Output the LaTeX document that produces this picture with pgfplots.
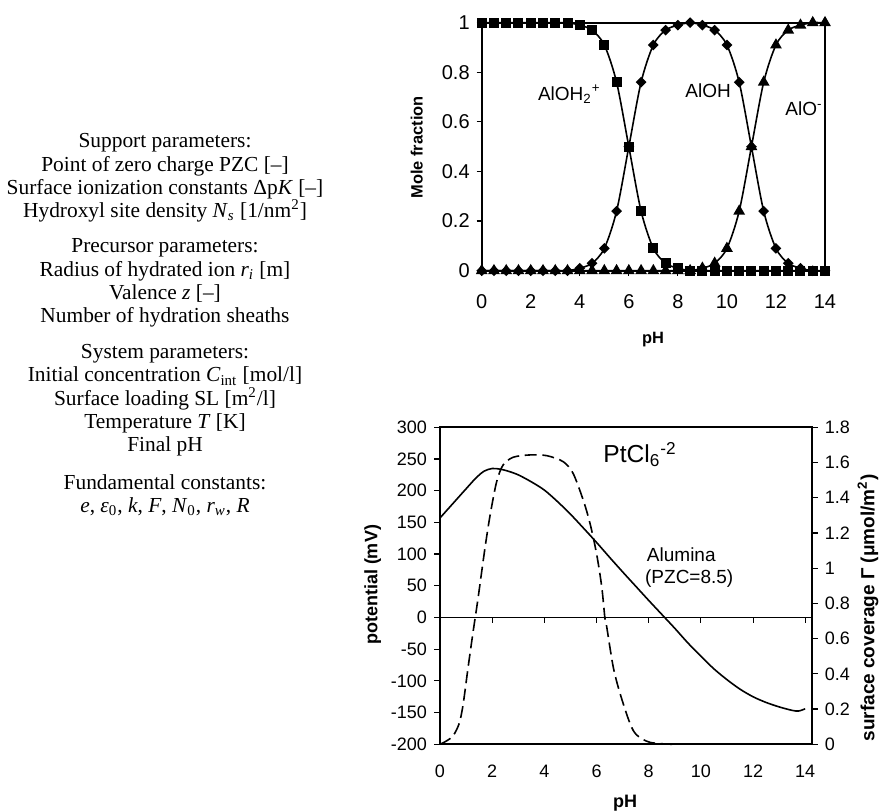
\documentclass[border=0pt]{standalone}
\usepackage{fontspec}
\setmainfont{Liberation Serif}
\newfontfamily\arial{Liberation Sans}
\usepackage{pgfplots}
\pgfplotsset{compat=1.18}

\begin{document}
\begin{tikzpicture}
\path[use as bounding box] (0,0) rectangle (439.5pt,406pt);

% left text block
\begin{scope}[every node/.style={align=center, font=\fontsize{10.7}{11.65}\selectfont, inner sep=0pt}]
\node at (82.5pt,317pt) {Support parameters:\\ Point of zero charge PZC [--]\\ Surface ionization constants Δp\textit{K} [--]\\ Hydroxyl site density \textit{N}\textsubscript{\textit{s}} [1/nm\textsuperscript{2}]};
\node at (82.5pt,264.5pt) {Precursor parameters:\\ Radius of hydrated ion \textit{r}\textsubscript{\textit{i}} [m]\\ Valence \textit{z} [--]\\ Number of hydration sheaths};
\node at (82.5pt,205.8pt) {System parameters:\\ Initial concentration \textit{C}\textsubscript{int} [mol/l]\\ Surface loading SL [m\textsuperscript{2}/l]\\ Temperature \textit{T} [K]\\ Final pH};
\node at (82.5pt,158.5pt) {Fundamental constants:\\ \textit{e}, \textit{ε}\textsubscript{0}, \textit{k}, \textit{F}, \textit{N}\textsubscript{0}, \textit{r}\textsubscript{\textit{w}}, \textit{R}};
\end{scope}

% top chart: mole fractions
\begin{axis}[
  at={(240.85pt,270.65pt)}, anchor=south west, scale only axis,
  width=171.65pt, height=124pt,
  xmin=0, xmax=14, ymin=0, ymax=1,
  xtick={0,2,...,14}, ytick={0,0.2,0.4,0.6,0.8,1},
  tick pos=left, tick align=outside, major tick length=2.5pt,
  axis line style={line width=0.9pt},
  every tick/.style={black, line width=0.6pt},
  tick label style={font=\arial\fontsize{10}{12}\selectfont},
  xticklabel style={yshift=-6pt},
  /pgf/number format/assume math mode=true,
  clip=false,
]
\addplot[black, line width=0.8pt, smooth, mark=square*, mark size=1.5pt, mark options={rotate=45}] coordinates {
 (0,0)(0.5,0)(1,0)(1.5,0)(2,0)(2.5,0)(3,0)(3.5,0)(4,0.01)(4.5,0.03)(5,0.09)(5.5,0.24)(6,0.5)
 (6.5,0.76)(7,0.91)(7.5,0.97)(8,0.99)(8.5,1.0)(9,0.99)(9.5,0.97)(10,0.91)(10.5,0.76)(11,0.5)
 (11.5,0.24)(12,0.09)(12.5,0.03)(13,0.01)(13.5,0)(14,0)};
\addplot[black, line width=0.8pt, smooth, mark=square*, mark size=2.1pt] coordinates {
 (0,1)(0.5,1)(1,1)(1.5,1)(2,1)(2.5,1)(3,1)(3.5,1)(4,0.99)(4.5,0.97)(5,0.91)(5.5,0.76)(6,0.5)
 (6.5,0.24)(7,0.09)(7.5,0.03)(8,0.01)(8.5,0)(9,0)(9.5,0)(10,0)(10.5,0)(11,0)(11.5,0)(12,0)
 (12.5,0)(13,0)(13.5,0)(14,0)};
\addplot[black, line width=0.8pt, smooth, mark=triangle*, mark size=2.6pt] coordinates {
 (0,0)(0.5,0)(1,0)(1.5,0)(2,0)(2.5,0)(3,0)(3.5,0)(4,0)(4.5,0)(5,0)(5.5,0)(6,0)(6.5,0)(7,0)
 (7.5,0)(8,0)(8.5,0)(9,0.01)(9.5,0.03)(10,0.09)(10.5,0.24)(11,0.5)(11.5,0.76)(12,0.91)
 (12.5,0.97)(13,0.99)(13.5,1)(14,1)};
\node[font=\arial\fontsize{9.5}{11}\selectfont, anchor=base west, inner sep=0pt] at (axis cs:2.28,0.688) {AlOH\textsubscript{2}\textsuperscript{+}};
\node[font=\arial\fontsize{9.5}{11}\selectfont, anchor=base west, inner sep=0pt] at (axis cs:8.29,0.699) {AlOH};
\node[font=\arial\fontsize{9.5}{11}\selectfont, anchor=base west, inner sep=0pt] at (axis cs:12.37,0.625) {AlO\textsuperscript{-}};
\end{axis}
\node[font=\arial\bfseries\fontsize{8.2}{10}\selectfont, rotate=90] at (208.35pt,332.3pt) {Mole fraction};
\node[font=\arial\bfseries\fontsize{8.2}{10}\selectfont] at (326.5pt,236pt) {pH};

% bottom chart: potential (left axis)
\begin{axis}[
  at={(220pt,33.85pt)}, anchor=south west, scale only axis,
  width=185.85pt, height=158.5pt,
  xmin=0, xmax=14.25, ymin=-200, ymax=300,
  xtick={0,2,...,14}, ytick={-200,-150,...,300},
  tick pos=left, tick align=outside,
  major tick length=3pt,
  xtick style={draw=none},
  axis line style={line width=0.9pt},
  every tick/.style={black, line width=0.6pt},
  tick label style={font=\arial\fontsize{9}{11}\selectfont},
  xticklabel style={yshift=-4pt},
  /pgf/number format/assume math mode=true,
  clip=false,
]
\draw[line width=0.5pt] (axis cs:0,0) -- (axis cs:14.25,0);
\pgfplotsinvokeforeach{2,4,6,8,10,12,14}{\draw[line width=0.5pt] (axis cs:#1,0) -- ++(0pt,-2.8pt);}
\addplot[black, line width=0.8pt, smooth, tension=0.5] coordinates {
 (0,157)(0.5,180)(1.0,203)(1.4,221)(1.7,231)(2.0,235)(2.3,234)(2.6,231)(3.0,225)(3.5,214)
 (4.0,201)(4.5,183)(5.0,163)(5.5,141)(6.0,118.5)(6.5,95)(7.0,72)(7.5,49.5)(8.0,27)(8.5,5)
 (9.0,-17)(9.5,-40)(10.0,-61)(10.5,-81)(11.0,-98)(11.5,-113)(12.0,-125)(12.5,-134)
 (13.0,-141)(13.5,-146.5)(13.75,-147.5)(14.0,-144)};
\node[font=\arial\fontsize{12.3}{14}\selectfont, anchor=base west, inner sep=0pt] at (axis cs:6.25,244) {PtCl\textsubscript{6}\textsuperscript{-2}};
\node[font=\arial\fontsize{9.5}{11}\selectfont, anchor=base west, inner sep=0pt] at (axis cs:7.92,88) {Alumina};
\node[font=\arial\fontsize{9.5}{11}\selectfont, anchor=base west, inner sep=0pt] at (axis cs:7.85,54) {(PZC=8.5)};
\end{axis}

% bottom chart: surface coverage (right axis)
\begin{axis}[
  at={(220pt,33.85pt)}, anchor=south west, scale only axis,
  width=185.85pt, height=158.5pt,
  xmin=0, xmax=14.25, ymin=0, ymax=1.8,
  axis x line=none, axis y line*=right,
  ytick={0,0.2,0.4,0.6,0.8,1,1.2,1.4,1.6,1.8},
  tick align=outside, major tick length=3pt,
  axis line style={line width=0.9pt},
  every tick/.style={black, line width=0.6pt},
  tick label style={font=\arial\fontsize{9}{11}\selectfont},
  /pgf/number format/assume math mode=true,
  clip=false,
]
\addplot[black, line width=0.8pt, smooth, tension=0.5, dash pattern=on 6pt off 2.8pt] coordinates {
 (0,0)(0.26,0.02)(0.51,0.05)(0.74,0.12)(0.89,0.23)(1.08,0.44)(1.28,0.65)(1.45,0.82)(1.72,1.11)
 (1.92,1.30)(2.17,1.49)(2.42,1.586)(2.81,1.63)(3.45,1.643)(4.09,1.639)(4.72,1.605)(5.10,1.539)
 (5.49,1.387)(5.75,1.255)(6.0,1.084)(6.2,0.895)(6.32,0.72)(6.39,0.668)(6.64,0.44)(6.9,0.29)
 (7.28,0.12)(7.54,0.053)(8.05,0.011)(8.9,0)};
\end{axis}
\node[font=\arial\bfseries\fontsize{9}{11}\selectfont, rotate=90] at (186.35pt,113.5pt) {potential (mV)};
\node[font=\arial\bfseries\fontsize{9.5}{11}\selectfont, rotate=90] at (434pt,102pt) {surface coverage Γ (μmol/m\textsuperscript{2})};
\node[font=\arial\bfseries\fontsize{9}{11}\selectfont] at (312.5pt,4.5pt) {pH};
\end{tikzpicture}
\end{document}
